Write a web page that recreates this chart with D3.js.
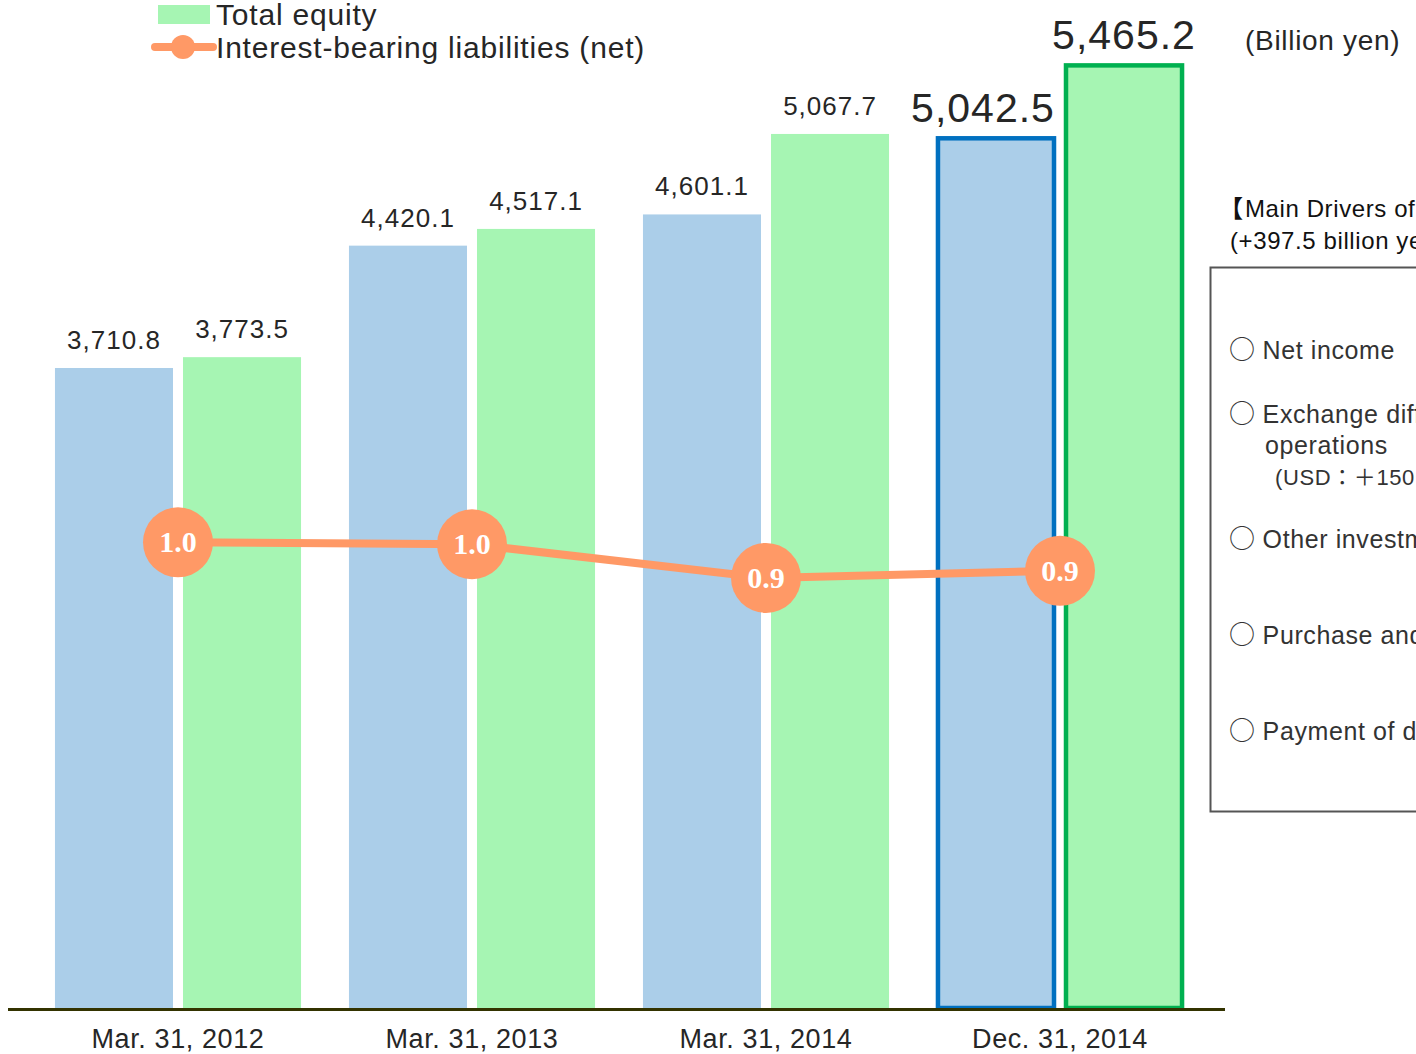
<!DOCTYPE html>
<html>
<head>
<meta charset="utf-8">
<script src="https://cdn.jsdelivr.net/npm/d3@7"></script>
<style>
  body { margin: 0; background: #fff; }
  svg { display: block; font-family: "Liberation Sans", Arial, sans-serif; }
  .cjk { font-family: "Noto Sans CJK JP", sans-serif; }
</style>
</head>
<body>
<div id="chart"></div>
<script>
const width = 1416,
  height = 1054;

// DATA
const categories = ["Mar. 31, 2012", "Mar. 31, 2013", "Mar. 31, 2014", "Dec. 31, 2014"];
const liabilities = [3710.8, 4420.1, 4601.1, 5042.5];   // blue bars
const equity = [3773.5, 4517.1, 5067.7, 5465.2];        // green bars
const ratio = [0.983, 0.979, 0.908, 0.923];             // orange line (net D/E)
const drivers = [
  ["Net income"],
  ["Exchange differences on translating foreign", "operations", "(USD：＋150.0 billion yen)"],
  ["Other investments"],
  ["Purchase and sale of treasury stock"],
  ["Payment of dividends"]
];

const blue = "#abcee9", green = "#a6f5b3", orange = "#ff9966", textCol = "#262626";

const svg = d3.select("#chart").append("svg")
  .attr("width", width)
  .attr("height", height);

// SCALES
const baseY = 1008;
const x = d3.scaleBand().domain(categories).range([31, 1207])
  .paddingInner(0.163).paddingOuter(0.0815);
const xs = d3.scaleBand().domain(["liab", "eq"]).range([0, x.bandwidth()]).paddingInner(0.078);
const y = d3.scaleLinear().domain([0, 5740]).range([baseY, baseY - 990]);
const yr = d3.scaleLinear().domain([0, 2.09]).range([baseY, baseY - 990]);

const fmt = d3.format(",.1f");

// BARS
const groups = svg.append("g").selectAll("g")
  .data(categories)
  .join("g")
  .attr("transform", d => `translate(${x(d)},0)`);

groups.each(function(c, i) {
  const g = d3.select(this);
  const last = i === categories.length - 1;
  const bars = [
    { key: "liab", v: liabilities[i], fill: blue, stroke: "#0070c0" },
    { key: "eq", v: equity[i], fill: green, stroke: "#00b050" }
  ];
  bars.forEach(b => {
    g.append("rect")
      .attr("x", xs(b.key) + (last ? 1 : 0))
      .attr("y", y(b.v))
      .attr("width", xs.bandwidth() - (last ? 2 : 0))
      .attr("height", baseY - y(b.v))
      .attr("fill", b.fill)
      .attr("stroke", last ? b.stroke : "none")
      .attr("stroke-width", last ? 4.5 : 0);
    g.append("text")
      .attr("x", xs(b.key) + xs.bandwidth() / 2 + (b.key === "liab" && last ? -13 : 0))
      .attr("y", y(b.v) - (last ? 16 : 19))
      .attr("text-anchor", "middle")
      .attr("font-size", last ? 41 : 26)
      .attr("letter-spacing", 1)
      .attr("fill", textCol)
      .text(fmt(b.v));
  });
});

// X AXIS LINE
svg.append("line")
  .attr("x1", 8).attr("x2", 1225)
  .attr("y1", baseY + 1.5).attr("y2", baseY + 1.5)
  .attr("stroke", "#333300")
  .attr("stroke-width", 3);

svg.append("g").selectAll("text")
  .data(categories)
  .join("text")
  .attr("x", d => x(d) + x.bandwidth() / 2)
  .attr("y", 1048)
  .attr("text-anchor", "middle")
  .attr("font-size", 27)
  .attr("letter-spacing", 0.6)
  .attr("fill", textCol)
  .text(d => d);

// LINE
const cx = (d, i) => x(categories[i]) + x.bandwidth() / 2;
svg.append("path")
  .datum(ratio)
  .attr("d", d3.line().x(cx).y(d => yr(d)))
  .attr("fill", "none")
  .attr("stroke", orange)
  .attr("stroke-width", 8);

const pts = svg.append("g").selectAll("g")
  .data(ratio)
  .join("g")
  .attr("transform", (d, i) => `translate(${cx(d, i)},${yr(d)})`);
pts.append("circle").attr("r", 35).attr("fill", orange);
pts.append("text")
  .attr("y", 10)
  .attr("text-anchor", "middle")
  .attr("font-family", "'Liberation Serif', 'Times New Roman', serif")
  .attr("font-weight", "bold")
  .attr("font-size", 30)
  .attr("fill", "#fff")
  .text(d => d3.format(".1f")(d));

// LEGEND
svg.append("rect").attr("x", 158).attr("y", 5).attr("width", 52).attr("height", 19).attr("fill", green);
svg.append("text").attr("x", 216).attr("y", 25).attr("font-size", 30).attr("letter-spacing", 0.8)
  .attr("fill", textCol).text("Total equity");
svg.append("line").attr("x1", 155).attr("x2", 213).attr("y1", 47).attr("y2", 47)
  .attr("stroke", orange).attr("stroke-width", 8).attr("stroke-linecap", "round");
svg.append("circle").attr("cx", 183).attr("cy", 47).attr("r", 12).attr("fill", orange);
svg.append("text").attr("x", 216).attr("y", 58).attr("font-size", 30).attr("letter-spacing", 0.8)
  .attr("fill", textCol)
  .text("Interest-bearing liabilities (net)");

// UNIT
svg.append("text").attr("x", 1245).attr("y", 50).attr("font-size", 28).attr("letter-spacing", 0.7)
  .attr("fill", textCol).text("(Billion yen)");

// SIDE PANEL
const t1 = svg.append("text").attr("x", 1219).attr("y", 217).attr("font-size", 24).attr("fill", "#111");
t1.append("tspan").attr("class", "cjk").attr("font-weight", "bold").text("【");
t1.append("tspan").attr("dx", 2).attr("letter-spacing", 0.6).text("Main Drivers of Increase in Total Equity】");
svg.append("text").attr("x", 1230).attr("y", 249).attr("font-size", 24).attr("letter-spacing", 0.6)
  .attr("fill", "#111").text("(+397.5 billion yen)");
svg.append("rect").attr("x", 1210.5).attr("y", 267.5).attr("width", 400).attr("height", 544)
  .attr("fill", "none").attr("stroke", "#555").attr("stroke-width", 2);

const itemY = [359, 423, 548, 644, 740];
drivers.forEach((lines, i) => {
  lines.forEach((t, j) => {
    const tx = svg.append("text")
      .attr("x", j === 0 ? 1229 : (j === 1 ? 1265 : 1275))
      .attr("y", itemY[i] + j * 31)
      .attr("font-size", j === 2 ? 22 : 25)
      .attr("letter-spacing", 0.6)
      .attr("fill", "#333");
    if (j === 0) {
      tx.append("tspan").attr("class", "cjk").attr("font-size", 26).text("○");
      tx.append("tspan").attr("dx", 7).text(t);
    } else if (j === 2) {
      const parts = t.split(/([：＋])/);
      parts.forEach(p => {
        tx.append("tspan").attr("class", /[：＋]/.test(p) ? "cjk" : null).text(p);
      });
    } else {
      tx.text(t);
    }
  });
});
</script>
</body>
</html>
